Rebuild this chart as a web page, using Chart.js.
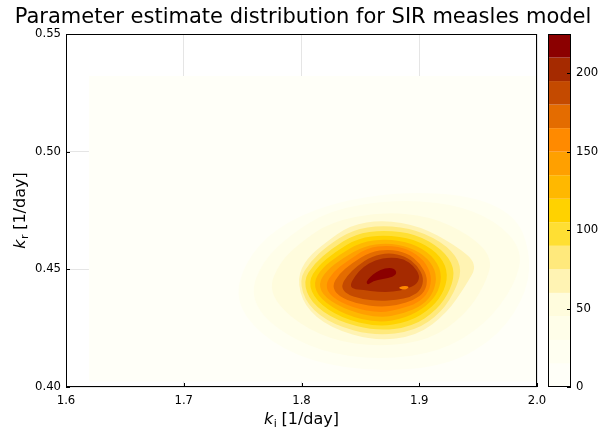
<!DOCTYPE html>
<html>
<head>
<meta charset="utf-8">
<script src="https://cdn.jsdelivr.net/npm/chart.js@4.4.0/dist/chart.umd.min.js"></script>
<style>
  html, body { margin: 0; padding: 0; background: #fff; }
</style>
</head>
<body>
<canvas id="c" width="606" height="430"></canvas>
<script>
// ticks
const xTicks = [1.6, 1.7, 1.8, 1.9, 2.0];
const yTicks = [0.40, 0.45, 0.50, 0.55];
const cbTicks = [0, 50, 100, 150, 200];

// contour levels and band colours (band i = levels[i]..levels[i+1])
const levels = [0, 15, 30, 45, 60, 75, 90, 105, 120, 135, 150, 165, 180, 195, 210, 225];
const bandColors = ['#fffff8', '#fffff1', '#fffee9', '#fffcdd', '#fff3b3', '#ffe97c', '#ffdf33', '#ffd200',
  '#ffb800', '#ffa000', '#ff8a00', '#e46c00', '#c44a00', '#a52a00', '#8b0000'];

// region boundaries (k_i, k_r), one per level
const contour000 = [[1.6195, 0.4023], [2.0, 0.4023], [2.0, 0.5322], [1.6195, 0.5322]];
const contour015 = [[1.7435, 0.4370], [1.7520, 0.4531], [1.7775, 0.4676], [1.8242, 0.4782], [1.8837, 0.4829],
  [1.9431, 0.4816], [1.9813, 0.4731], [1.9941, 0.4582], [1.9924, 0.4412], [1.9686, 0.4221], [1.9261, 0.4093],
  [1.8667, 0.4064], [1.8072, 0.4106], [1.7648, 0.4221]];
const contour030 = [[1.7563, 0.4391], [1.7665, 0.4531], [1.7902, 0.4646], [1.8242, 0.4752], [1.8752, 0.4795],
  [1.9261, 0.4782], [1.9643, 0.4710], [1.9881, 0.4582], [1.9813, 0.4433], [1.9558, 0.4263], [1.9176, 0.4149],
  [1.8667, 0.4115], [1.8157, 0.4149], [1.7732, 0.4263]];
const contour045 = [[1.7716, 0.4412], [1.7817, 0.4531], [1.7987, 0.4612], [1.8242, 0.4701], [1.8667, 0.4744],
  [1.9091, 0.4727], [1.9431, 0.4646], [1.9626, 0.4548], [1.9558, 0.4433], [1.9389, 0.4306], [1.9091, 0.4200],
  [1.8667, 0.4170], [1.8242, 0.4200], [1.7902, 0.4293]];
const contour060 = [[1.7962, 0.4463], [1.8047, 0.4548], [1.8200, 0.4612], [1.8412, 0.4688], [1.8692, 0.4710],
  [1.9006, 0.4684], [1.9304, 0.4603], [1.9499, 0.4523], [1.9397, 0.4433], [1.9236, 0.4314], [1.8981, 0.4217],
  [1.8624, 0.4195], [1.8242, 0.4251], [1.8021, 0.4344]];
const contour075 = [[1.7979, 0.4455], [1.8072, 0.4531], [1.8217, 0.4599], [1.8429, 0.4667], [1.8692, 0.4688],
  [1.8989, 0.4667], [1.9244, 0.4599], [1.9363, 0.4514], [1.9321, 0.4425], [1.9193, 0.4319], [1.8964, 0.4238],
  [1.8624, 0.4217], [1.8268, 0.4263], [1.8047, 0.4348]];
const contour090 = [[1.8013, 0.4450], [1.8106, 0.4523], [1.8251, 0.4586], [1.8454, 0.4650], [1.8701, 0.4667],
  [1.8972, 0.4650], [1.9193, 0.4586], [1.9304, 0.4506], [1.9270, 0.4416], [1.9151, 0.4327], [1.8938, 0.4255],
  [1.8633, 0.4238], [1.8301, 0.4280], [1.8081, 0.4357]];
const contour105 = [[1.8055, 0.4446], [1.8140, 0.4514], [1.8285, 0.4574], [1.8480, 0.4633], [1.8709, 0.4646],
  [1.8955, 0.4629], [1.9151, 0.4574], [1.9244, 0.4497], [1.9219, 0.4412], [1.9108, 0.4336], [1.8913, 0.4276],
  [1.8641, 0.4255], [1.8335, 0.4293], [1.8123, 0.4365]];
const contour120 = [[1.8098, 0.4442], [1.8174, 0.4506], [1.8318, 0.4561], [1.8505, 0.4616], [1.8718, 0.4629],
  [1.8938, 0.4612], [1.9108, 0.4561], [1.9193, 0.4489], [1.9168, 0.4408], [1.9066, 0.4344], [1.8887, 0.4293],
  [1.8650, 0.4272], [1.8369, 0.4306], [1.8157, 0.4374]];
const contour135 = [[1.8140, 0.4438], [1.8217, 0.4497], [1.8352, 0.4548], [1.8531, 0.4599], [1.8726, 0.4612],
  [1.8921, 0.4595], [1.9074, 0.4548], [1.9151, 0.4480], [1.9125, 0.4404], [1.9032, 0.4348], [1.8862, 0.4310],
  [1.8658, 0.4293], [1.8403, 0.4323], [1.8200, 0.4378]];
const contour150 = [[1.8200, 0.4433], [1.8268, 0.4489], [1.8386, 0.4535], [1.8556, 0.4590], [1.8735, 0.4603],
  [1.8904, 0.4586], [1.9040, 0.4540], [1.9108, 0.4472], [1.9083, 0.4404], [1.8989, 0.4357], [1.8837, 0.4331],
  [1.8667, 0.4314], [1.8437, 0.4336], [1.8251, 0.4382]];
const contour165 = [[1.8259, 0.4429], [1.8318, 0.4480], [1.8429, 0.4527], [1.8582, 0.4574], [1.8743, 0.4586],
  [1.8896, 0.4570], [1.9006, 0.4527], [1.9074, 0.4463], [1.9049, 0.4404], [1.8955, 0.4370], [1.8820, 0.4348],
  [1.8667, 0.4340], [1.8471, 0.4353], [1.8310, 0.4387]];
const contour180 = [[1.8335, 0.4429], [1.8386, 0.4472], [1.8471, 0.4514], [1.8599, 0.4557], [1.8743, 0.4570],
  [1.8879, 0.4557], [1.8981, 0.4518], [1.9040, 0.4463], [1.9015, 0.4412], [1.8930, 0.4382], [1.8803, 0.4370],
  [1.8667, 0.4365], [1.8505, 0.4374], [1.8378, 0.4395]];
const contour195 = [[1.8412, 0.4433], [1.8454, 0.4472], [1.8522, 0.4510], [1.8624, 0.4540], [1.8752, 0.4552],
  [1.8870, 0.4544], [1.8955, 0.4514], [1.9006, 0.4472], [1.8981, 0.4438], [1.8896, 0.4416], [1.8777, 0.4404],
  [1.8650, 0.4404], [1.8522, 0.4412], [1.8437, 0.4416]];
const contour210 = [[1.8548, 0.4446], [1.8582, 0.4467], [1.8633, 0.4489], [1.8709, 0.4506], [1.8786, 0.4506],
  [1.8811, 0.4484], [1.8777, 0.4467], [1.8692, 0.4459], [1.8607, 0.4450], [1.8565, 0.4433]];
// small dip inside the core, back in the 150-165 band
const contourDip = [[1.8820, 0.4421], [1.8854, 0.4429], [1.8904, 0.4429], [1.8913, 0.4421], [1.8870, 0.4412]];

const contours = [contour000, contour015, contour030, contour045, contour060, contour075, contour090, contour105,
  contour120, contour135, contour150, contour165, contour180, contour195, contour210];

const FONT = '"DejaVu Sans", sans-serif';

const datasets = contours.map((poly, i) => ({
  label: '≥ ' + levels[i],
  data: poly.map(p => ({ x: p[0], y: p[1] })),
  backgroundColor: bandColors[i],
  pointRadius: 0,
  showLine: false
}));
datasets.push({
  label: 'dip',
  data: contourDip.map(p => ({ x: p[0], y: p[1] })),
  backgroundColor: bandColors[10],
  pointRadius: 0,
  showLine: false
});

// fills each closed contour region, lowest level first
const contourFill = {
  id: 'contourFill',
  beforeDatasetsDraw(chart) {
    const { ctx, chartArea: a, scales: { x, y } } = chart;
    ctx.save();
    ctx.beginPath();
    ctx.rect(a.left, a.top, a.width, a.height);
    ctx.clip();
    chart.data.datasets.forEach((ds, i) => {
      const pts = ds.data.map(p => [x.getPixelForValue(p.x), y.getPixelForValue(p.y)]);
      const n = pts.length;
      ctx.beginPath();
      if (i === 0) {
        pts.forEach((p, k) => k ? ctx.lineTo(p[0], p[1]) : ctx.moveTo(p[0], p[1]));
      } else {
        // rounded outline through the mid points
        const mid = (p, q) => [(p[0] + q[0]) / 2, (p[1] + q[1]) / 2];
        const m0 = mid(pts[n - 1], pts[0]);
        ctx.moveTo(m0[0], m0[1]);
        for (let k = 0; k < n; k++) {
          const m = mid(pts[k], pts[(k + 1) % n]);
          ctx.quadraticCurveTo(pts[k][0], pts[k][1], m[0], m[1]);
        }
      }
      ctx.closePath();
      ctx.fillStyle = ds.backgroundColor;
      ctx.fill();
    });
    ctx.restore();
  }
};

// frame, inward ticks, colour bar, axis labels
const decorations = {
  id: 'decorations',
  afterDraw(chart) {
    const { ctx, chartArea: a, scales: { x, y, cb } } = chart;
    ctx.save();
    ctx.strokeStyle = '#000';
    ctx.lineWidth = 1;
    ctx.strokeRect(Math.round(a.left) + 0.5, Math.round(a.top) + 0.5, Math.round(a.width) - 1, Math.round(a.height) - 1);

    ctx.beginPath();
    xTicks.forEach(v => {
      const px = Math.round(x.getPixelForValue(v)) + 0.5;
      ctx.moveTo(px, a.bottom); ctx.lineTo(px, a.bottom - 4);
    });
    yTicks.forEach(v => {
      const py = Math.round(y.getPixelForValue(v)) + 0.5;
      ctx.moveTo(a.left, py); ctx.lineTo(a.left + 4, py);
    });
    ctx.stroke();

    // colour bar
    const bx0 = cb.left + 11, bx1 = cb.left + 34;
    for (let i = 0; i < bandColors.length; i++) {
      const y0 = cb.getPixelForValue(levels[i]), y1 = cb.getPixelForValue(levels[i + 1]);
      ctx.fillStyle = bandColors[i];
      ctx.fillRect(bx0, y1, bx1 - bx0, y0 - y1);
    }
    ctx.strokeRect(Math.round(bx0) + 0.5, Math.round(cb.top) + 0.5, Math.round(bx1 - bx0) - 1, Math.round(cb.bottom - cb.top) - 1);
    ctx.beginPath();
    cbTicks.forEach(v => {
      const py = Math.round(cb.getPixelForValue(v)) + 0.5;
      ctx.moveTo(bx1 - 4, py); ctx.lineTo(bx1, py);
    });
    ctx.stroke();

    // axis labels: italic k with an upright subscript
    const drawLabel = (cx, cy, sub) => {
      const fMain = 'italic 16px ' + FONT, fSub = '11px ' + FONT, fRest = '16px ' + FONT;
      const rest = ' [1/day]';
      ctx.font = fMain; const w1 = ctx.measureText('k').width;
      ctx.font = fSub; const w2 = ctx.measureText(sub).width;
      ctx.font = fRest; const w3 = ctx.measureText(rest).width;
      let sx = cx - (w1 + w2 + w3) / 2;
      ctx.fillStyle = '#000';
      ctx.textBaseline = 'alphabetic';
      ctx.textAlign = 'left';
      ctx.font = fMain; ctx.fillText('k', sx, cy); sx += w1 + 0.5;
      ctx.font = fSub; ctx.fillText(sub, sx, cy + 3); sx += w2 - 0.5;
      ctx.font = fRest; ctx.fillText(rest, sx, cy);
    };
    drawLabel((a.left + a.right) / 2, 424, 'i');
    ctx.translate(25, (a.top + a.bottom) / 2);
    ctx.rotate(-Math.PI / 2);
    drawLabel(0, 0, 'r');
    ctx.restore();
  }
};

const tickFont = { family: FONT, size: 11.7 };
const noOverflow = s => { s.paddingTop = 0; s.paddingBottom = 0; s.paddingLeft = 0; s.paddingRight = 0; };

new Chart(document.getElementById('c'), {
  type: 'scatter',
  data: { datasets },
  options: {
    responsive: false,
    animation: false,
    devicePixelRatio: 1,
    layout: { padding: 0 },
    plugins: {
      legend: { display: false },
      tooltip: { enabled: false },
      title: {
        display: true,
        text: 'Parameter estimate distribution for SIR measles model',
        color: '#000',
        font: { family: FONT, size: 21, weight: 'normal' },
        padding: { top: 5, bottom: 3.8 }
      }
    },
    scales: {
      x: {
        type: 'linear', min: 1.6, max: 2.0,
        afterBuildTicks: s => { s.ticks = xTicks.map(v => ({ value: v })); },
        afterFit: s => { s.height = 43; noOverflow(s); },
        grid: { color: 'rgba(0,0,0,0.1)', drawTicks: false },
        border: { display: false },
        ticks: { color: '#000', font: tickFont, padding: 7, maxRotation: 0, callback: v => v.toFixed(1) }
      },
      y: {
        type: 'linear', min: 0.40, max: 0.55,
        afterBuildTicks: s => { s.ticks = yTicks.map(v => ({ value: v })); },
        afterFit: s => { s.width = 66; noOverflow(s); },
        grid: { color: 'rgba(0,0,0,0.1)', drawTicks: false },
        border: { display: false },
        ticks: { color: '#000', font: tickFont, padding: 5, callback: v => v.toFixed(2) }
      },
      cb: {
        type: 'linear', axis: 'y', position: 'right', min: 0, max: 225,
        afterBuildTicks: s => { s.ticks = cbTicks.map(v => ({ value: v })); },
        afterFit: s => { s.width = 69; noOverflow(s); },
        grid: { display: false, drawTicks: false },
        border: { display: false },
        ticks: { color: '#000', font: tickFont, padding: 39, callback: v => String(v) }
      }
    }
  },
  plugins: [contourFill, decorations]
});
</script>
</body>
</html>
